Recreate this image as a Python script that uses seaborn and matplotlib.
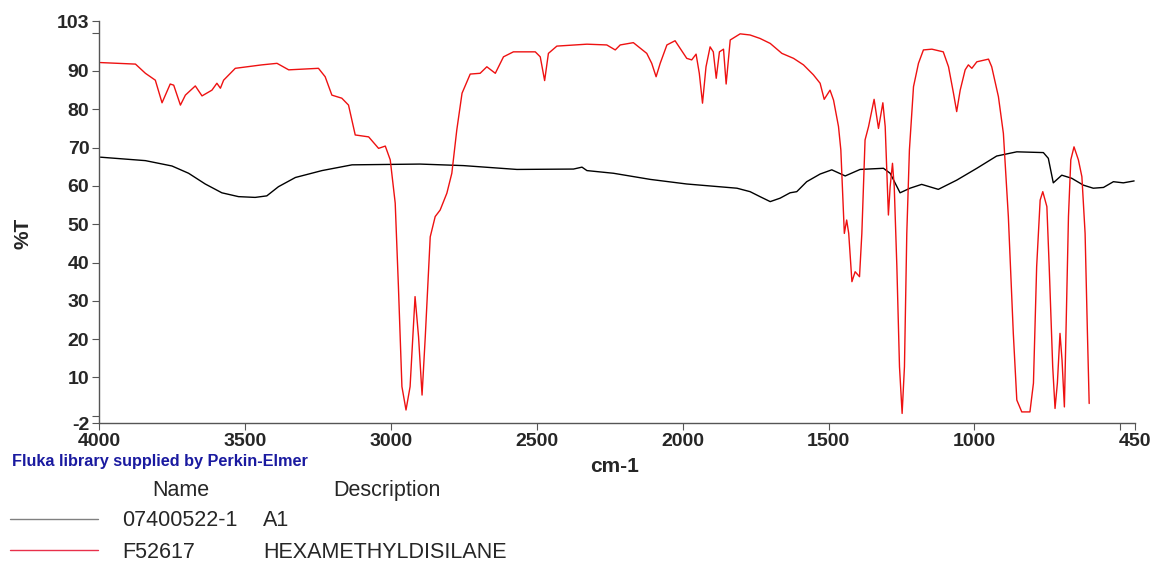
import matplotlib
matplotlib.use("Agg")
import matplotlib.pyplot as plt
import seaborn as sns

# ---------------------------
# Spectrum data
# ---------------------------
# F52617 HEXAMETHYLDISILANE
red_wn = [3995, 3875, 3841, 3807, 3784, 3756, 3744, 3721, 3704, 3670, 3647, 3613,
          3596, 3584, 3573, 3533, 3442, 3390, 3350, 3248, 3225, 3202, 3168, 3145,
          3122, 3076, 3042, 3019, 3002, 2985, 2974, 2962, 2948, 2934, 2917, 2905,
          2893, 2882, 2865, 2848, 2831, 2808, 2791, 2774, 2756, 2728, 2694, 2671,
          2642, 2614, 2580, 2505, 2488, 2473, 2460, 2431, 2328, 2260, 2231, 2214,
          2169, 2123, 2106, 2091, 2077, 2054, 2026, 1997, 1986, 1969, 1954, 1943,
          1932, 1920, 1906, 1895, 1885, 1874, 1860, 1851, 1837, 1803, 1769, 1735,
          1700, 1660, 1620, 1586, 1552, 1529, 1515, 1495, 1483, 1466, 1458, 1451,
          1446, 1438, 1431, 1420, 1409, 1394, 1386, 1375, 1363, 1344, 1329, 1314,
          1306, 1295, 1289, 1281, 1275, 1266, 1257, 1248, 1240, 1232, 1223, 1209,
          1192, 1175, 1146, 1107, 1089, 1072, 1061, 1049, 1032, 1021, 1009, 992,
          952, 941, 918, 901, 884, 867, 855, 838, 810, 798, 787, 775,
          766, 752, 744, 732, 724, 716, 707, 700, 692, 684, 678, 670,
          659, 644, 632, 621, 613, 607]
red_t = [92.2, 91.8, 89.4, 87.6, 81.7, 86.6, 86.3, 81.1, 83.7, 86.1, 83.5, 85.0,
         86.8, 85.5, 87.6, 90.7, 91.6, 92.0, 90.3, 90.7, 88.5, 83.7, 82.9, 81.1,
         73.3, 72.8, 69.8, 70.4, 66.8, 55.5, 33.7, 7.6, 1.5, 7.6, 31.1, 20.6,
         5.4, 20.6, 46.7, 52.0, 53.7, 58.1, 63.3, 74.6, 84.2, 89.2, 89.4, 91.1,
         89.4, 93.7, 95.0, 95.0, 93.7, 87.5, 94.6, 96.5, 97.0, 96.8, 95.5, 96.8,
         97.4, 94.6, 92.0, 88.5, 92.0, 96.8, 97.9, 94.6, 93.3, 92.9, 94.4, 89.4,
         81.6, 91.1, 96.3, 95.0, 88.1, 95.0, 95.7, 86.6, 98.1, 99.7, 99.4, 98.5,
         97.2, 94.6, 93.3, 91.6, 89.0, 86.8, 82.6, 85.0, 82.4, 75.5, 69.4, 56.3,
         47.6, 51.1, 47.6, 35.0, 37.6, 36.3, 47.6, 72.0, 75.5, 82.6, 75.0, 81.7,
         75.5, 52.4, 59.8, 65.9, 59.8, 38.9, 12.8, 0.6, 12.8, 47.6, 69.4, 85.9,
         92.0, 95.5, 95.7, 95.0, 91.1, 84.2, 79.4, 85.0, 90.3, 91.6, 90.7, 92.4,
         93.1, 91.1, 83.3, 73.7, 52.0, 21.5, 4.1, 1.0, 1.0, 8.5, 38.9, 56.3,
         58.5, 54.6, 38.9, 12.8, 1.9, 8.5, 21.5, 14.5, 2.3, 30.2, 52.0, 66.8,
         70.2, 66.8, 62.4, 47.6, 21.5, 3.2]

# 07400522-1 A1
black_wn = [3995, 3841, 3750, 3693, 3636, 3579, 3522, 3465, 3425, 3385, 3327, 3236,
            3133, 2900, 2751, 2568, 2374, 2345, 2328, 2237, 2111, 1986, 1814, 1769,
            1735, 1700, 1666, 1632, 1609, 1575, 1529, 1489, 1443, 1392, 1312, 1289,
            1255, 1221, 1181, 1124, 1061, 992, 924, 855, 764, 747, 730, 701,
            667, 627, 593, 558, 524, 490, 453]
black_t = [67.5, 66.6, 65.2, 63.3, 60.5, 58.2, 57.2, 57.0, 57.4, 59.8, 62.2, 64.0,
           65.5, 65.7, 65.3, 64.3, 64.4, 64.9, 64.0, 63.3, 61.7, 60.5, 59.4, 58.5,
           57.2, 55.9, 56.8, 58.2, 58.5, 61.1, 63.1, 64.2, 62.6, 64.3, 64.6, 63.3,
           58.2, 59.4, 60.4, 59.1, 61.5, 64.6, 67.8, 68.9, 68.7, 67.2, 60.8, 62.8,
           62.0, 60.2, 59.4, 59.6, 61.1, 60.8, 61.3]

x_ticks = [4000, 3500, 3000, 2500, 2000, 1500, 1000, 500, 450]
x_tick_labels = ["4000", "3500", "3000", "2500", "2000", "1500", "1000", "", "450"]
y_ticks = [-2, 0, 10, 20, 30, 40, 50, 60, 70, 80, 90, 100, 103]
y_tick_labels = ["-2", "", "10", "20", "30", "40", "50", "60", "70", "80", "90", "", "103"]

names = ["07400522-1", "F52617"]
descriptions = ["A1", "HEXAMETHYLDISILANE"]

# ---------------------------
# Plot
# ---------------------------
sns.set_style("ticks")
plt.rcParams["font.family"] = ["Liberation Sans", "DejaVu Sans"]

W, H = 1154, 561
fig = plt.figure(figsize=(W / 100, H / 100), dpi=100)
ax = fig.add_axes([99 / W, 1 - 423.4 / H, (1135 - 99) / W, (423.4 - 21.2) / H])

sns.lineplot(x=black_wn, y=black_t, ax=ax, color="black", linewidth=1.0,
             sort=False, estimator=None)
sns.lineplot(x=red_wn, y=red_t, ax=ax, color="#ee1111", linewidth=1.0,
             sort=False, estimator=None)

ax.set_xlim(4000, 450)
ax.set_ylim(-2, 103)
ax.set_xticks(x_ticks)
ax.set_xticklabels(x_tick_labels, fontsize=14, fontweight="bold")
ax.set_yticks(y_ticks)
ax.set_yticklabels(y_tick_labels, fontsize=14, fontweight="bold")
ax.tick_params(axis="both", length=5, width=0.8, color="#555555", pad=2)
for side in ["top", "right"]:
    ax.spines[side].set_visible(False)
for side in ["left", "bottom"]:
    ax.spines[side].set_color("#555555")
    ax.spines[side].set_linewidth(1.0)
ax.set_xlabel("")
ax.set_ylabel("")

def px(x, y):
    return x / W, 1 - y / H

fig.text(*px(23, 233), "%T", fontsize=15, fontweight="bold", rotation=90,
         ha="center", va="center")
fig.text(*px(615, 467), "cm-1", fontsize=15, fontweight="bold",
         ha="center", va="center")
fig.text(*px(12, 466), "Fluka library supplied by Perkin-Elmer", fontsize=11.7,
         fontweight="bold", color="#1a1aa0", ha="left", va="baseline")

# legend table
fig.text(*px(152, 496), "Name", fontsize=15.5, ha="left", va="baseline")
fig.text(*px(333, 496), "Description", fontsize=15.5, ha="left", va="baseline")
legend_colors = ["#808080", "#e8304a"]
legend_rows = [519, 550]
for name, desc, col, yy in zip(names, descriptions, legend_colors, legend_rows):
    fig.add_artist(plt.Line2D([10 / W, 98 / W], [1 - yy / H, 1 - yy / H],
                              color=col, linewidth=1.0))
    fig.text(*px(122, yy + 7.5), name, fontsize=15.5, ha="left", va="baseline")
    fig.text(*px(263, yy + 7.5), desc, fontsize=15.5, ha="left", va="baseline")

plt.savefig("out.png", dpi=100)
